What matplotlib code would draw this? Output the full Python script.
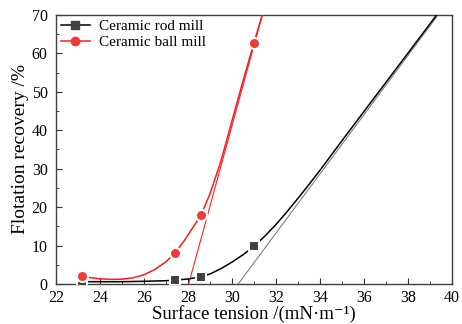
import numpy as np
import matplotlib.pyplot as plt

plt.rcParams['font.family'] = ['Liberation Serif', 'DejaVu Serif']

# measured points
x_pts = [23.2, 27.4, 28.6, 31.0]
rod_pts = [0.6, 1.0, 1.9, 9.9]
ball_pts = [2.1, 8.0, 18.0, 62.8]

# fitted curves
rod_fit_x = [23.2, 24, 25, 26, 27, 27.4, 28, 28.6, 29, 29.5, 30, 30.5, 31,
             31.5, 32, 32.5, 33, 33.5, 34, 35, 36, 37, 38, 39.3]
rod_fit_y = [0.6, 0.6, 0.6, 0.7, 0.85, 1.0, 1.3, 1.9, 2.6, 4.0, 5.7, 7.6, 9.8,
             12.5, 15.5, 18.8, 22.3, 25.9, 29.6, 37.3, 44.9, 52.5, 60.1, 70.0]
ball_fit_x = [23.2, 23.6, 24, 24.5, 25, 25.5, 26, 26.5, 27, 27.4, 27.8, 28.2,
              28.6, 29, 29.5, 30, 30.5, 31, 31.4]
ball_fit_y = [2.1, 1.6, 1.35, 1.2, 1.25, 1.6, 2.4, 3.8, 5.8, 8.0, 11.0, 14.5,
              18.0, 23.5, 32.0, 42.5, 52.8, 62.8, 70.5]

# tangent lines
rod_tan_x = [30.28, 39.3]
rod_tan_y = [0, 69.5]
ball_tan_x = [28.03, 31.4]
ball_tan_y = [0, 70.5]

fig = plt.figure(figsize=(4.62, 3.24), dpi=100)
ax = fig.add_axes([0.1212, 0.1235, 0.8572, 0.8302])

ax.plot(rod_tan_x, rod_tan_y, color='#707070', lw=0.7, zorder=2)
ax.plot(ball_tan_x, ball_tan_y, color='#ff2020', lw=0.8, zorder=2)
ax.plot(rod_fit_x, rod_fit_y, color='black', lw=1.1, zorder=3)
ax.plot(ball_fit_x, ball_fit_y, color='#ff1a1a', lw=1.1, zorder=3)

ax.plot(x_pts, rod_pts, ls='none', marker='s', ms=7, color='#404040',
        mec='white', mew=1.5, zorder=4)
ax.plot(x_pts, ball_pts, ls='none', marker='o', ms=8, color='#f03a3a',
        mec='white', mew=1.5, zorder=4)

# legend handles
ax.plot([], [], color='black', lw=1.1, marker='s', ms=6, mfc='#404040',
        mec='#404040', label='Ceramic rod mill')
ax.plot([], [], color='#ff1a1a', lw=1.1, marker='o', ms=6, mfc='#f03a3a',
        mec='#f03a3a', label='Ceramic ball mill')
ax.legend(loc='upper left', frameon=False, fontsize=11, handlelength=1.9,
          handletextpad=0.6, labelspacing=0.15, borderaxespad=0.0,
          borderpad=0.3, bbox_to_anchor=(0.0, 1.0))

ax.set_xlim(22, 40)
ax.set_ylim(0, 70)
ax.set_xticks(np.arange(22, 41, 2))
ax.set_yticks(np.arange(0, 71, 10))
ax.set_xticks(np.arange(22, 41, 1), minor=True)
ax.set_yticks(np.arange(0, 71, 5), minor=True)
ax.tick_params(which='both', direction='in', top=False, right=False,
               labelsize=11.5, color='#303030')
ax.tick_params(axis='x', pad=4)
ax.tick_params(axis='y', pad=6)
ax.tick_params(which='major', length=4)
ax.tick_params(which='minor', length=2.5)
for s in ax.spines.values():
    s.set_color('#404040')
    s.set_linewidth(1.0)

xl = ax.set_xlabel('Surface tension /(mN·m⁻¹)', fontsize=13.5)
xl.set_va('bottom')
ax.xaxis.set_label_coords(0.5, -0.145)
ax.set_ylabel('Flotation recovery /%', fontsize=14, labelpad=2)

fig.savefig('out.png', dpi=100)
